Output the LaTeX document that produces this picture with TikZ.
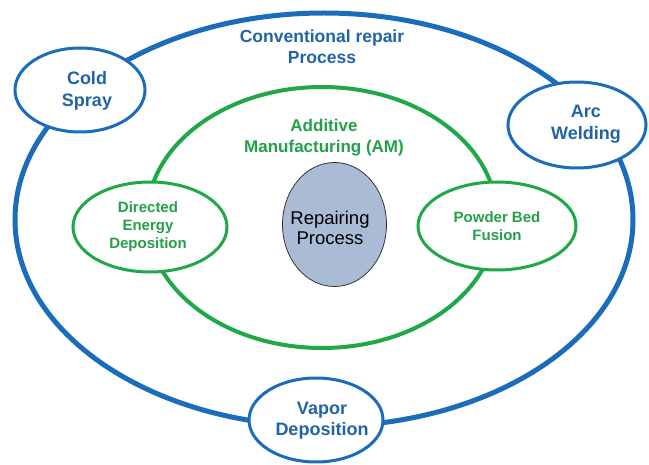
\documentclass[tikz,border=0pt]{standalone}
\usepackage{fontspec}
\setmainfont{Liberation Sans}
\usetikzlibrary{shapes.geometric}

\definecolor{ringblue}{RGB}{28,108,188}
\definecolor{textblue}{RGB}{32,100,168}
\definecolor{ringgreen}{RGB}{30,168,72}
\definecolor{textgreen}{RGB}{36,160,72}
\definecolor{corefill}{RGB}{170,187,214}

\begin{document}
\begin{tikzpicture}[x=1pt,y=-1pt,
  bigring/.style={line width=#1},
  bluebubble/.style={ellipse, draw=ringblue, line width=3pt, fill=white, inner sep=0pt},
  greenbubble/.style={ellipse, draw=ringgreen, line width=3pt, fill=white, inner sep=0pt},
  % multi-line labels are placed by the baseline of their last line
  bluelabel/.style={text=textblue, align=center, anchor=base, inner sep=0pt,
    font=\bfseries\fontsize{18}{22}\selectfont},
  greenlabel/.style={text=textgreen, align=center, anchor=base, inner sep=0pt,
    font=\bfseries\fontsize{15}{18}\selectfont},
  corelabel/.style={text=black, align=center, anchor=base, inner sep=0pt,
    font=\fontsize{18.5}{20}\selectfont}]

\useasboundingbox (0,0) rectangle (649,465);
\fill[white] (0,0) rectangle (649,465);

% outer ring: conventional repair processes
\draw[ringblue, bigring=5pt] (324,219.7) ellipse [x radius=309, y radius=206.7];
% inner ring: additive manufacturing
\draw[ringgreen, bigring=4pt] (322,217.5) ellipse [x radius=175, y radius=130.5];

% conventional processes on the outer ring
\node[bluebubble, minimum width=130pt, minimum height=84pt] (cold) at (80,90) {};
\node[bluebubble, minimum width=138pt, minimum height=86pt] (arc) at (577,125) {};
\node[bluebubble, minimum width=134pt, minimum height=84pt] (vapor) at (316,420) {};

% additive processes on the inner ring
\node[greenbubble, minimum width=154pt, minimum height=90pt] (ded) at (150,227) {};
\node[greenbubble, minimum width=158pt, minimum height=88pt] (pbf) at (497,226) {};

% core
\node[ellipse, draw=black!80, line width=0.8pt, fill=corefill, inner sep=0pt,
      minimum width=104pt, minimum height=124pt] (core) at (334.5,224.5) {};

% labels
\node[bluelabel, font=\bfseries\fontsize{17.5}{21}\selectfont] (convtxt) at (322,64) {Conventional repair\\Process};
\node[bluelabel] (coldtxt) at (87,107) {Cold\\Spray};
\node[bluelabel] (arctxt) at (586,140) {Arc\\Welding};
\node[bluelabel, font=\bfseries\fontsize{18}{21}\selectfont] (vaportxt) at (322,436) {Vapor\\Deposition};
\node[greenlabel, font=\bfseries\fontsize{17}{21}\selectfont] (amtxt) at (324,153) {Additive\\Manufacturing (AM)};
\node[greenlabel] (dedtxt) at (148,249) {Directed\\Energy\\Deposition};
\node[greenlabel] (pbftxt) at (497,241) {Powder Bed\\Fusion};
\node[corelabel] (coretxt) at (330,245) {Repairing\\Process};

\end{tikzpicture}
\end{document}
